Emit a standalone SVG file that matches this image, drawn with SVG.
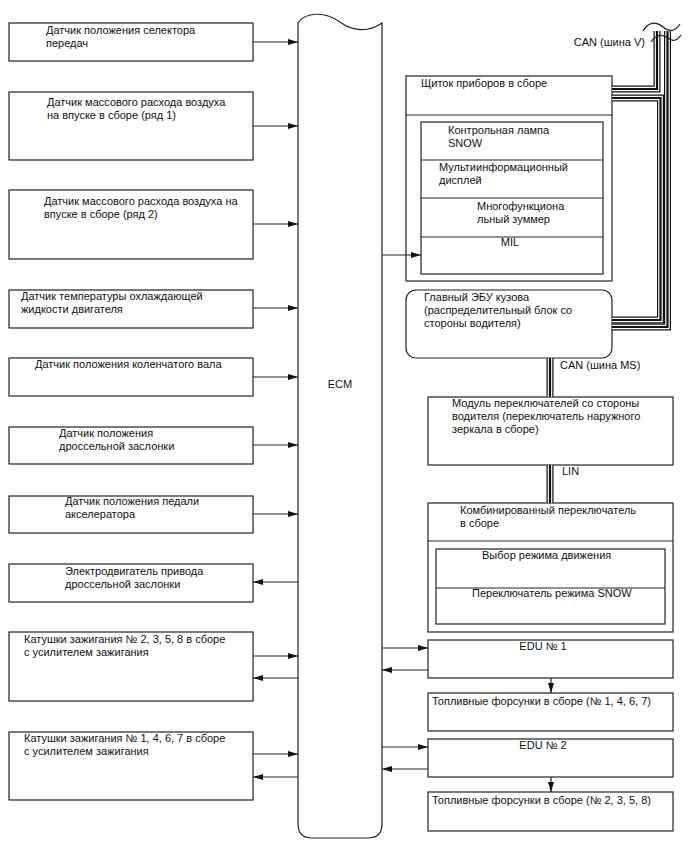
<svg xmlns="http://www.w3.org/2000/svg" width="688" height="852" viewBox="0 0 688 852">
<defs>
<marker id="ah" viewBox="0 0 10 6" refX="10" refY="3" markerWidth="10" markerHeight="6" markerUnits="userSpaceOnUse" orient="auto">
<path d="M0,0 L10,3 L0,6 z" fill="#111"/>
</marker>
</defs>
<style>
.b{fill:#fff;stroke:#222;stroke-width:1.2}
.l{fill:none;stroke:#222;stroke-width:1.2}
.t{font-family:"Liberation Sans",Arial,sans-serif;font-size:11px;fill:#111}
.c{fill:none;stroke:#222;stroke-width:1.2;marker-end:url(#ah)}
.bo{fill:none;stroke:#111;stroke-width:7;stroke-linejoin:miter}
.bw{fill:none;stroke:#fff;stroke-width:4.6;stroke-linejoin:miter}
.bc{fill:none;stroke:#111;stroke-width:2.2;stroke-linejoin:miter}
</style>
<rect width="688" height="852" fill="#fff"/>

<g id="sensor-selector"><rect class="b" x="9" y="23" width="244" height="38"/><text class="t" x="46" y="34">Датчик положения селектора<tspan x="46" dy="13">передач</tspan></text></g>
<g id="maf1"><rect class="b" x="9" y="92" width="244" height="68"/><text class="t" x="47" y="106">Датчик массового расхода воздуха<tspan x="47" dy="13">на впуске в сборе (ряд 1)</tspan></text></g>
<g id="maf2"><rect class="b" x="9" y="190" width="244" height="69"/><text class="t" x="44" y="205">Датчик массового расхода воздуха на<tspan x="44" dy="13">впуске в сборе (ряд 2)</tspan></text></g>
<g id="ect"><rect class="b" x="9" y="290" width="244" height="38"/><text class="t" x="21" y="300">Датчик температуры охлаждающей<tspan x="21" dy="13">жидкости двигателя</tspan></text></g>
<g id="ckp"><rect class="b" x="9" y="358" width="244" height="38"/><text class="t" x="35" y="368">Датчик положения коленчатого вала</text></g>
<g id="tps"><rect class="b" x="9" y="427" width="244" height="37"/><text class="t" x="59" y="437">Датчик положения<tspan x="59" dy="13">дроссельной заслонки</tspan></text></g>
<g id="app"><rect class="b" x="9" y="496" width="244" height="37"/><text class="t" x="65" y="505">Датчик положения педали<tspan x="65" dy="13">акселератора</tspan></text></g>
<g id="throttle-motor"><rect class="b" x="9" y="564" width="244" height="38"/><text class="t" x="65" y="575">Электродвигатель привода<tspan x="65" dy="13">дроссельной заслонки</tspan></text></g>
<g id="coils-2358"><rect class="b" x="9" y="632" width="244" height="69"/><text class="t" x="24" y="643">Катушки зажигания № 2, 3, 5, 8 в сборе<tspan x="24" dy="13">с усилителем зажигания</tspan></text></g>
<g id="coils-1467"><rect class="b" x="9" y="732" width="244" height="68"/><text class="t" x="24" y="742">Катушки зажигания № 1, 4, 6, 7 в сборе<tspan x="24" dy="13">с усилителем зажигания</tspan></text></g>

<g id="ecm"><path class="b" d="M298,23 C305,12 325,11 340,22 C352,31 368,33 382,23 L382,824 Q382,838 368,838 L312,838 Q298,838 298,824 Z"/><text class="t" x="340" y="388" text-anchor="middle">ECM</text></g>

<g id="combination-meter"><rect class="b" x="406" y="76" width="206" height="205"/><line class="l" x1="406" y1="115" x2="612" y2="115"/><text class="t" x="421" y="87">Щиток приборов в сборе</text>
<rect class="b" x="421" y="122" width="182" height="152"/>
<line class="l" x1="421" y1="160" x2="603" y2="160"/><line class="l" x1="421" y1="198" x2="603" y2="198"/><line class="l" x1="421" y1="237" x2="603" y2="237"/>
<text class="t" x="448" y="134">Контрольная лампа<tspan x="448" dy="13">SNOW</tspan></text>
<text class="t" x="439" y="171">Мультиинформационный<tspan x="439" dy="13">дисплей</tspan></text>
<text class="t" x="477" y="210">Многофункциона<tspan x="477" dy="13">льный зуммер</tspan></text>
<text class="t" x="510" y="246" text-anchor="middle">MIL</text></g>

<g id="main-body-ecu"><rect class="b" x="406" y="290" width="206" height="68" rx="10" ry="10"/><text class="t" x="424" y="301">Главный ЭБУ кузова<tspan x="424" dy="13">(распределительный блок со</tspan><tspan x="424" dy="13">стороны водителя)</tspan></text></g>

<g id="driver-switch-module"><rect class="b" x="428" y="397" width="245" height="68"/><text class="t" x="452" y="407">Модуль переключателей со стороны<tspan x="452" dy="13">водителя (переключатель наружного</tspan><tspan x="452" dy="13">зеркала в сборе)</tspan></text></g>

<g id="combination-switch"><rect class="b" x="428" y="503" width="245" height="129"/><line class="l" x1="428" y1="541" x2="673" y2="541"/><text class="t" x="460" y="514">Комбинированный переключатель<tspan x="460" dy="13">в сборе</tspan></text>
<rect class="b" x="436" y="549" width="229" height="75"/><line class="l" x1="436" y1="588" x2="665" y2="588"/>
<text class="t" x="482" y="559">Выбор режима движения</text>
<text class="t" x="472" y="597">Переключатель режима SNOW</text></g>

<g id="edu1"><rect class="b" x="428" y="640" width="245" height="38"/><text class="t" x="543" y="650" text-anchor="middle">EDU № 1</text></g>
<g id="injectors-1467"><rect class="b" x="428" y="693" width="245" height="38"/><text class="t" x="432" y="705">Топливные форсунки в сборе (№ 1, 4, 6, 7)</text></g>
<g id="edu2"><rect class="b" x="428" y="739" width="245" height="38"/><text class="t" x="543" y="749" text-anchor="middle">EDU № 2</text></g>
<g id="injectors-2358"><rect class="b" x="428" y="792" width="245" height="39"/><text class="t" x="432" y="804">Топливные форсунки в сборе (№ 2, 3, 5, 8)</text></g>

<g id="connectors">
<line class="c" x1="253" y1="42" x2="298" y2="42"/>
<line class="c" x1="253" y1="126" x2="298" y2="126"/>
<line class="c" x1="253" y1="224" x2="298" y2="224"/>
<line class="c" x1="253" y1="308" x2="298" y2="308"/>
<line class="c" x1="253" y1="377" x2="298" y2="377"/>
<line class="c" x1="253" y1="445" x2="298" y2="445"/>
<line class="c" x1="253" y1="514" x2="298" y2="514"/>
<line class="c" x1="298" y1="582" x2="253" y2="582"/>
<line class="c" x1="253" y1="656" x2="298" y2="656"/>
<line class="c" x1="298" y1="678" x2="253" y2="678"/>
<line class="c" x1="253" y1="754" x2="298" y2="754"/>
<line class="c" x1="298" y1="777" x2="253" y2="777"/>
<line class="c" x1="382" y1="255" x2="421" y2="255"/>
<line class="c" x1="382" y1="648" x2="428" y2="648"/>
<line class="c" x1="428" y1="670" x2="382" y2="670"/>
<line class="c" x1="382" y1="747" x2="428" y2="747"/>
<line class="c" x1="428" y1="769" x2="382" y2="769"/>
<line class="c" x1="551" y1="678" x2="551" y2="693"/>
<line class="c" x1="551" y1="777" x2="551" y2="792"/>

<g id="can-v">
<path class="bo" d="M667.5,31 V327 H612"/><path class="bw" d="M667.5,31 V327 H612"/><path class="bc" d="M667.5,31 V327 H612"/>
<path class="bo" d="M612,98 H660.5 V320 H612"/><path class="bw" d="M612,98 H660.5 V320 H612"/><path class="bc" d="M612,98 H660.5 V320 H612"/>
<path class="bo" d="M657,31 V89 H612"/><path class="bw" d="M657,31 V89 H612"/><path class="bc" d="M657,31 V89 H612"/>
<path class="l" d="M643,31 C648,22 656,21 663,27 C669,32 675,32 680,24"/>
<path class="l" d="M651,42 C656,34 663,34 668,38 C673,42 677,41 681,35"/>
<text class="t" x="645" y="46" text-anchor="end">CAN (шина V)</text>
</g>
<g id="can-ms">
<path class="bo" d="M550,358 V397"/><path class="bw" d="M550,358 V397"/><path class="bc" d="M550,358 V397"/>
<text class="t" x="560" y="369">CAN (шина MS)</text>
</g>
<g id="lin">
<path class="bo" d="M550,465 V503"/><path class="bw" d="M550,465 V503"/><path class="bc" d="M550,465 V503"/>
<text class="t" x="562" y="475">LIN</text>
</g>
</g>
</svg>
